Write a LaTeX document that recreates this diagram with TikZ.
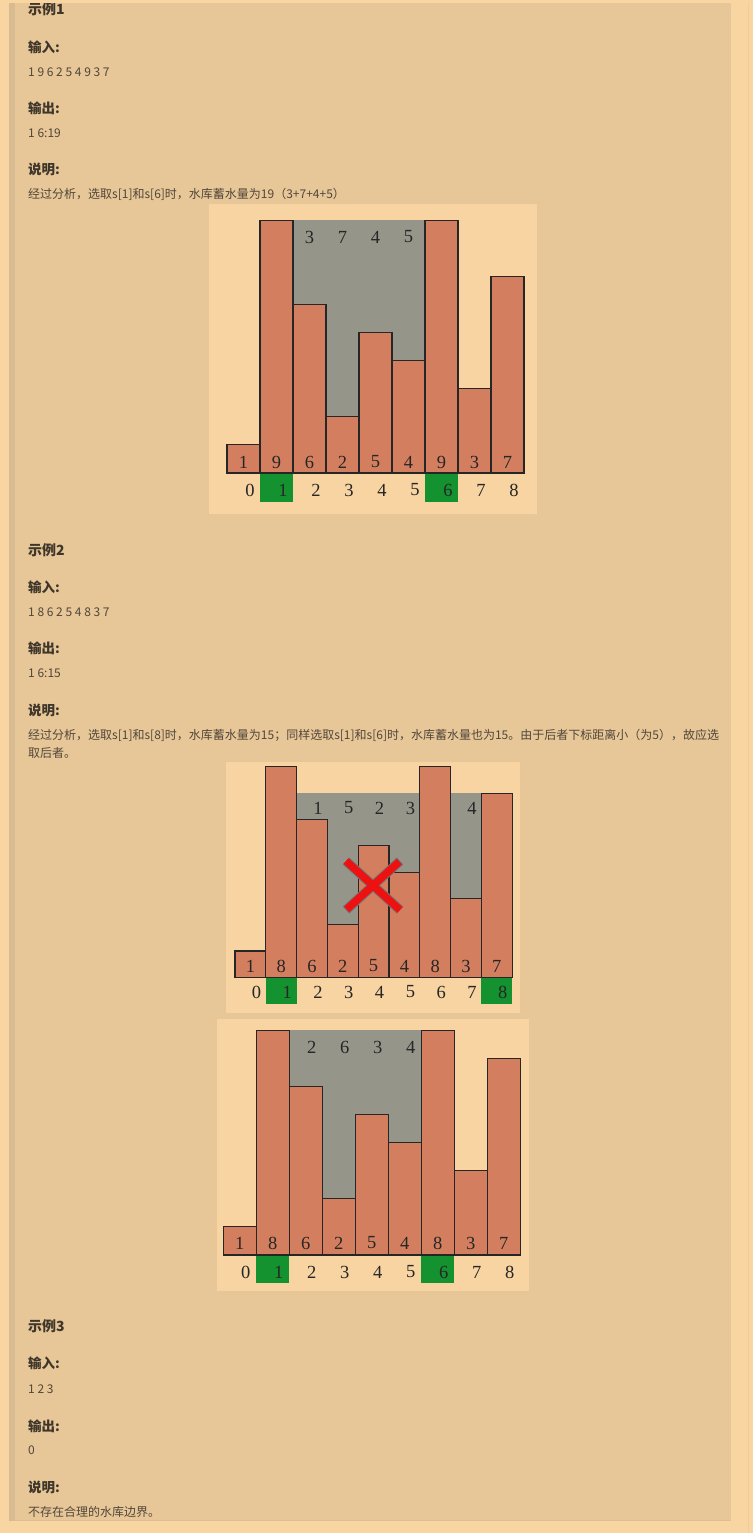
\documentclass[tikz,border=0pt]{standalone}
\usepackage{fontspec}
\setmainfont{Liberation Serif}
\newfontfamily\cjk{Noto Sans CJK SC}
\definecolor{outerbg}{HTML}{F9D5A2}
\definecolor{panel}{HTML}{E7C697}
\definecolor{strip}{HTML}{D8BB90}
\definecolor{chartbg}{HTML}{F8D4A2}
\definecolor{barc}{HTML}{D37F5F}
\definecolor{water}{HTML}{95958A}
\definecolor{greenc}{HTML}{13922F}
\definecolor{headc}{HTML}{3E362A}
\definecolor{bodyc}{HTML}{51473A}
\definecolor{redx}{HTML}{EE1111}
\tikzset{
  head/.style={anchor=west,inner sep=0pt,text=headc,font=\cjk\fontsize{14}{16}\selectfont\bfseries},
  label/.style={anchor=west,inner sep=0pt,text=headc,font=\cjk\fontsize{13.5}{16}\selectfont\bfseries},
  body/.style={anchor=west,inner sep=0pt,text=bodyc,font=\cjk\fontsize{12}{14}\selectfont},
  barbox/.style={fill=barc,draw=black!85,line width=1.1pt},
  digit/.style={inner sep=0pt,text=black!85,font=\fontsize{18.5}{20}\selectfont},
}
\begin{document}
\begin{tikzpicture}[x=1pt,y=-1pt]
\useasboundingbox (0,0) rectangle (753,1533);
\fill[outerbg] (0,0) rectangle (753,1533);
\fill[panel] (9,0) rectangle (731,1521);
\fill[strip] (9,0) rectangle (15,1521);
\draw[color=outerbg!96!black,line width=0.6pt] (748.5,0) -- (748.5,1533);
\draw[color=panel!96!black,line width=0.8pt] (15,1520.5) -- (731,1520.5);

% ---------- Example 1 ----------
\node[head] (h1) at (28,9) {示例1};
\fill[outerbg] (0,0) rectangle (753,3);
\node[label] (in1) at (28,47) {输入:};
\node[body] (in1v) at (28,72) {1 9 6 2 5 4 9 3 7};
\node[label] (out1) at (28,108) {输出:};
\node[body] (out1v) at (28,133) {1 6:19};
\node[label] (ex1) at (28,169) {说明:};
\node[body] (ex1v) at (28,194) {经过分析，选取s[1]和s[6]时，水库蓄水量为19（3+7+4+5）};

% chart 1
\fill[chartbg] (209,204) rectangle (537,514);
\fill[water] (293,473) rectangle (424,220.1);
\foreach \i in {1,6} {\fill[greenc] (227+33*\i,473) rectangle (260+33*\i,502);}
\foreach \v [count=\i from 0] in {1,9,6,2,5,4,9,3,7} {
  \draw[barbox] (227+33*\i,473) rectangle (260+33*\i,473-28.1*\v);
  \node[digit] (a\i) at (243.5+33*\i,462) {\v};
  \node[digit] (ai\i) at (250+33*\i,490) {\i};
}
\foreach \v [count=\i from 2] in {3,7,4,5} {\node[digit] (aw\i) at (243.5+33*\i,237) {\v};}

% ---------- Example 2 ----------
\node[head] (h2) at (28,550) {示例2};
\node[label] (in2) at (28,587) {输入:};
\node[body] (in2v) at (28,612) {1 8 6 2 5 4 8 3 7};
\node[label] (out2) at (28,648) {输出:};
\node[body] (out2v) at (28,673) {1 6:15};
\node[label] (ex2) at (28,710) {说明:};
\node[body] (ex2v) at (28,735) {经过分析，选取s[1]和s[8]时，水库蓄水量为15；同样选取s[1]和s[6]时，水库蓄水量也为15。由于后者下标距离小（为5），故应选};
\node[body] (ex2w) at (28,753) {取后者。};

% chart 2a
\fill[chartbg] (226,762) rectangle (520,1013);
\fill[water] (296.6,977.3) rectangle (481.4,793.2);
\foreach \i in {1,8} {\fill[greenc] (235+30.8*\i,977.3) rectangle (265.8+30.8*\i,1004);}
\foreach \v [count=\i from 0] in {1,8,6,2,5,4,8,3,7} {
  \draw[barbox] (235+30.8*\i,977.3) rectangle (265.8+30.8*\i,977.3-26.3*\v);
  \node[digit] (b\i) at (250.4+30.8*\i,966) {\v};
  \node[digit] (bi\i) at (256.4+30.8*\i,992) {\i};
}
\foreach \v/\i in {1/2,5/3,2/4,3/5,4/7} {\node[digit] (bw\i) at (256.4+30.8*\i,808) {\v};}
\coordinate (xa) at (346,861); \coordinate (xb) at (400,910);
\coordinate (xc) at (400,861); \coordinate (xd) at (346,910);
\draw[color=black!55,line width=9.5pt] (xa) -- (xb) (xc) -- (xd);
\draw[redx,line width=7.5pt,shorten <=0.9pt,shorten >=0.9pt] (xa) -- (xb) (xc) -- (xd);

% chart 2b
\fill[chartbg] (217,1019) rectangle (529,1291);
\fill[water] (289.3,1255) rectangle (421.3,1030);
\foreach \i in {1,6} {\fill[greenc] (223.3+33*\i,1255) rectangle (256.3+33*\i,1283);}
\foreach \v [count=\i from 0] in {1,8,6,2,5,4,8,3,7} {
  \draw[barbox] (223.3+33*\i,1255) rectangle (256.3+33*\i,1255-28.1*\v);
  \node[digit] (c\i) at (239.8+33*\i,1243) {\v};
  \node[digit] (ci\i) at (245.8+33*\i,1272) {\i};
}
\foreach \v [count=\i from 2] in {2,6,3,4} {\node[digit] (cw\i) at (245.8+33*\i,1047) {\v};}

% ---------- Example 3 ----------
\node[head] (h3) at (28,1326) {示例3};
\node[label] (in3) at (28,1363) {输入:};
\node[body] (in3v) at (28,1389) {1 2 3};
\node[label] (out3) at (28,1426) {输出:};
\node[body] (out3v) at (28,1450) {0};
\node[label] (ex3) at (28,1487) {说明:};
\node[body] (ex3v) at (28,1512) {不存在合理的水库边界。};
\end{tikzpicture}
\end{document}
